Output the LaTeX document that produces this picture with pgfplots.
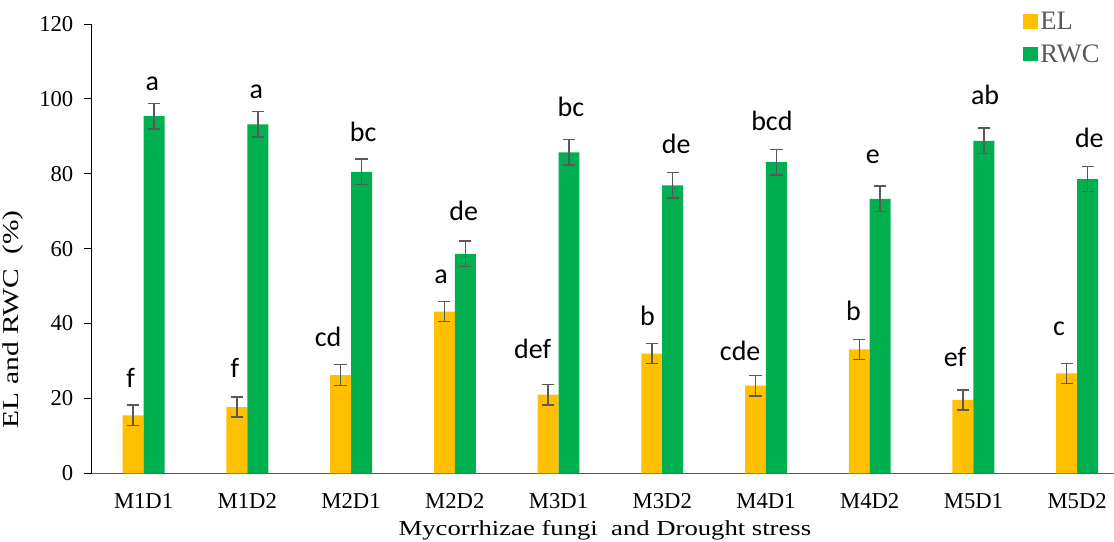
\documentclass[border=0pt]{standalone}
\usepackage{pgfplots}
\usepackage{pgfplotstable}
\pgfplotsset{compat=1.18}
\usepackage{fontspec}
\setmainfont{Liberation Serif}
\newfontfamily\letterfont{Carlito}
\newfontfamily\labfont[FakeStretch=1.25]{Liberation Serif}
\newfontfamily\ylabfont[FakeStretch=1.3]{Liberation Serif}
\definecolor{elc}{HTML}{FFC000}
\definecolor{rwcc}{HTML}{00B050}
\definecolor{errc}{HTML}{595959}
\definecolor{axc}{HTML}{595959}

\pgfplotstableread{
xel xrwc el elerr rwc rwcerr
-0.101 0.101 15.5 2.7 95.4 3.4
0.899 1.101 17.7 2.7 93.2 3.4
1.899 2.101 26.2 2.8 80.5 3.4
2.899 3.101 43.2 2.7 58.6 3.4
3.899 4.101 21.0 2.7 85.7 3.4
4.899 5.101 32.0 2.7 76.9 3.4
5.899 6.101 23.4 2.7 83.1 3.4
6.899 7.101 33.1 2.7 73.3 3.4
7.899 8.101 19.6 2.7 88.8 3.4
8.899 9.101 26.7 2.7 78.6 3.4
}\data

\pgfplotstableread{
x y lab
-0.125 22.8 f
0.084 102.3 a
0.879 25.6 f
1.086 100.2 a
1.779 33.9 cd
2.117 88.7 bc
2.868 50.7 a
3.086 67.5 de
3.750 30.7 def
4.120 95.2 bc
4.858 39.4 b
5.135 85.3 de
5.751 30.0 cde
6.057 91.5 bcd
6.843 40.8 b
7.030 82.7 e
7.823 28.4 ef
8.112 98.4 ab
8.825 36.9 c
9.117 86.9 de
}\letters

\begin{document}
\begin{tikzpicture}
\begin{axis}[
  scale only axis,
  width=766.7pt, height=337pt,
  xmin=-0.5, xmax=9.355,
  ymin=0, ymax=120,
  axis x line=bottom, axis y line=left,
  axis line style={-},
  x axis line style={draw=axc, line width=1.1pt},
  y axis line style={draw=black, line width=0.7pt},
  xtick={0,...,9},
  xticklabels={M1D1,M1D2,M2D1,M2D2,M3D1,M3D2,M4D1,M4D2,M5D1,M5D2},
  xtick style={draw=none},
  ytick={0,20,...,120},
  ytick style={draw=black, line width=0.7pt},
  major tick length=5.6pt,
  tick align=outside,
  tick label style={font=\fontsize{17}{20}\selectfont},
  /pgf/number format/assume math mode=true,
  xticklabel style={anchor=base, yshift=-21pt},
  yticklabel style={inner sep=0pt, xshift=-8pt},
  xlabel={\labfont\fontsize{16}{19}\selectfont Mycorrhizae fungi\ \ and Drought stress},
  xlabel style={at={(axis description cs:0.502,0)}, anchor=base, yshift=-46.5pt},
  ylabel={\ylabfont\fontsize{17}{20}\selectfont EL and RWC\ \ (\%)},
  ylabel style={at={(axis description cs:-0.0715,0.343)}, anchor=base},
  legend style={draw=none, fill=none, at={(axis description cs:0.907,1.04)}, anchor=north west,
    font=\fontsize{20}{23}\selectfont, text=axc, row sep=6pt},
  legend cell align=left,
]
\coordinate (bl) at (rel axis cs:0,0);
\coordinate (tr) at (rel axis cs:1,1);
\addplot[ybar, bar width=0.2023, bar shift=0, fill=elc, draw=none,
  legend image code/.code={\fill[elc] (0pt,-5.4pt) rectangle (10.8pt,5.4pt);},
  error bars/.cd, y dir=both, y explicit,
  error bar style={errc, line width=1.1pt},
  error mark options={rotate=90, errc, mark size=4.6pt, line width=1.1pt}]
  table[x=xel, y=el, y error=elerr] {\data};
\addlegendentry{EL}
\addplot[ybar, bar width=0.2023, bar shift=0, fill=rwcc, draw=none,
  legend image code/.code={\fill[rwcc] (0pt,-5.4pt) rectangle (10.8pt,5.4pt);},
  error bars/.cd, y dir=both, y explicit,
  error bar style={errc, line width=1.1pt},
  error mark options={rotate=90, errc, mark size=4.6pt, line width=1.1pt}]
  table[x=xrwc, y=rwc, y error=rwcerr] {\data};
\addlegendentry{RWC}
\addplot[draw=none, mark=none, forget plot,
  nodes near coords, point meta=explicit symbolic,
  nodes near coords style={font=\letterfont\fontsize{21}{25}\selectfont, anchor=base, inner sep=0pt, text=black}]
  table[x=x, y=y, meta=lab] {\letters};
\end{axis}
\pgfresetboundingbox
\path ([shift={(-68.8pt,-50.8pt)}]bl) rectangle ([shift={(0pt,18pt)}]tr);
\end{tikzpicture}
\end{document}
